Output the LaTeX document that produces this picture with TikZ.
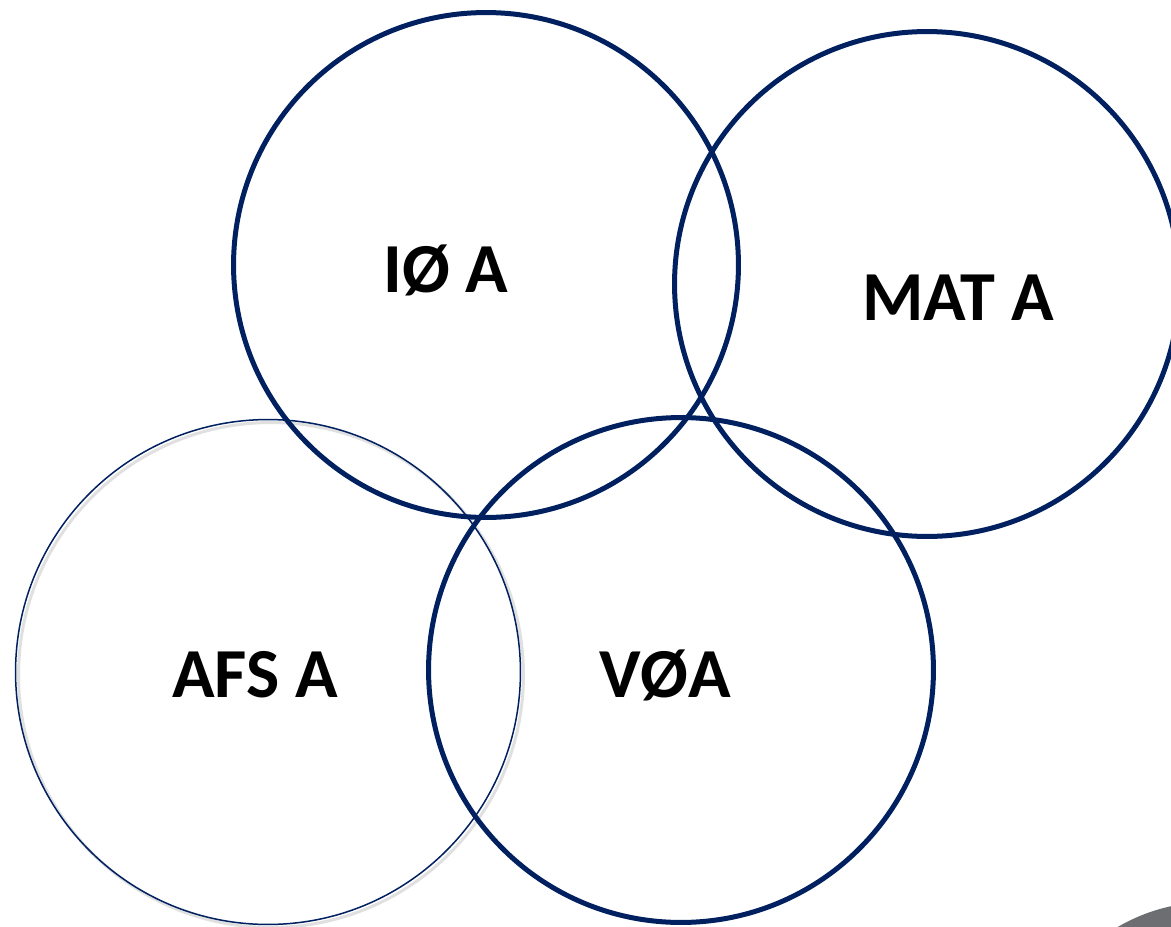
\documentclass[tikz,border=0pt]{standalone}
\usepackage{fontspec}
\setmainfont{Carlito}
\definecolor{ringblue}{HTML}{002060}
\definecolor{cornergray}{HTML}{6D6E71}

\begin{document}
\begin{tikzpicture}[x=0.02cm, y=-0.02cm,
    ring/.style={circle, draw=ringblue, line width=0.1cm, minimum size=10.1cm, inner sep=0pt},
    thinring/.style={ring, line width=0.03cm},
    areatext/.style={anchor=base, inner sep=0pt, font=\bfseries\fontsize{40}{48}\selectfont}]
            \useasboundingbox (0,0) rectangle (1171,927);
            \clip (0,0) rectangle (1171,927);

            \fill[cornergray] (1210,1085) circle (3.66cm);

            % faint shadow of the thin ring
            \draw[black!12, line width=0.06cm] (271,675) circle (5.05cm);

            \node[thinring] (afs) at (268,672) {};
            \node[ring] (io) at (486,265) {};
            \node[ring] (mat) at (927,284) {};
            \node[ring] (voa) at (681,670) {};

            \node[areatext] (iotext) at (446,292) {IØ A};
            \node[areatext] (mattext) at (958,320) {MAT A};
            \node[areatext] (afstext) at (255,697) {AFS A};
            \node[areatext] (voatext) at (665,697) {VØA};
        \end{tikzpicture}
\end{document}
